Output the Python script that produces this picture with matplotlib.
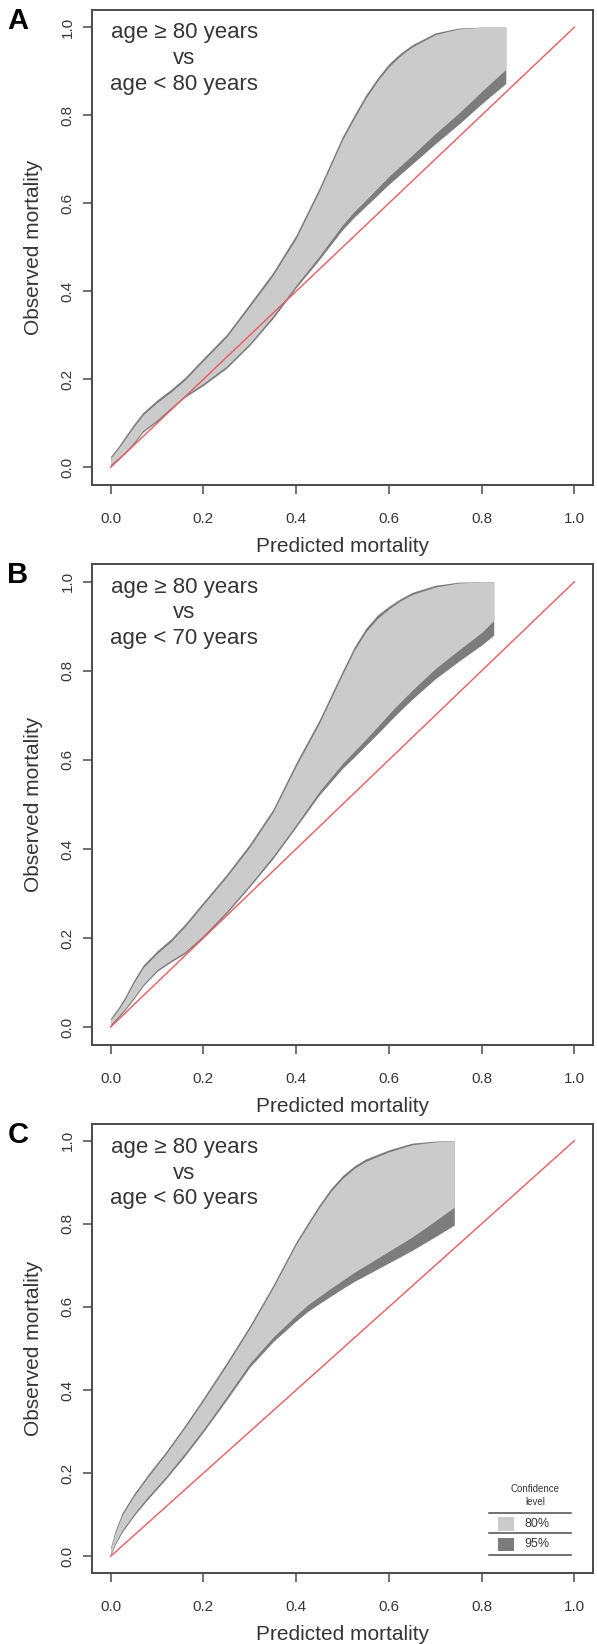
import matplotlib.pyplot as plt
from matplotlib.patches import Rectangle

plt.rcParams['font.family'] = ['Liberation Sans', 'DejaVu Sans']

# calibration belts
# panel A: age >= 80 vs age < 80
a_x = [0, 0.015, 0.03, 0.05, 0.07, 0.10, 0.13, 0.16, 0.20, 0.25, 0.30, 0.35, 0.40,
       0.45, 0.50, 0.525, 0.55, 0.575, 0.60, 0.625, 0.65, 0.70, 0.75, 0.80, 0.852]
a_hi95 = [0.025, 0.045, 0.068, 0.098, 0.125, 0.153, 0.177, 0.204, 0.248, 0.302, 0.372, 0.443, 0.528,
          0.635, 0.752, 0.800, 0.846, 0.884, 0.917, 0.941, 0.960, 0.987, 0.998, 1.0, 1.0]
a_hi80 = [0.021, 0.040, 0.062, 0.092, 0.119, 0.147, 0.171, 0.198, 0.242, 0.296, 0.365, 0.436, 0.520,
          0.627, 0.744, 0.792, 0.838, 0.877, 0.910, 0.935, 0.955, 0.983, 0.996, 1.0, 1.0]
a_lo80 = [0.007, 0.020, 0.034, 0.057, 0.084, 0.108, 0.136, 0.163, 0.191, 0.230, 0.282, 0.344, 0.414,
          0.480, 0.551, 0.581, 0.607, 0.634, 0.661, 0.685, 0.709, 0.758, 0.804, 0.854, 0.904]
a_lo95 = [0.003, 0.016, 0.030, 0.053, 0.080, 0.104, 0.132, 0.159, 0.186, 0.225, 0.277, 0.338, 0.408,
          0.472, 0.540, 0.568, 0.593, 0.618, 0.643, 0.666, 0.689, 0.735, 0.779, 0.826, 0.872]

# panel B: age >= 80 vs age < 70
b_x = [0, 0.015, 0.03, 0.05, 0.07, 0.10, 0.13, 0.16, 0.20, 0.25, 0.30, 0.35, 0.40,
       0.45, 0.50, 0.525, 0.55, 0.575, 0.60, 0.625, 0.65, 0.70, 0.75, 0.80, 0.826]
b_hi95 = [0.020, 0.041, 0.066, 0.105, 0.139, 0.171, 0.198, 0.231, 0.281, 0.343, 0.411, 0.489, 0.594,
          0.690, 0.800, 0.853, 0.895, 0.925, 0.945, 0.962, 0.976, 0.992, 0.999, 1.0, 1.0]
b_hi80 = [0.016, 0.036, 0.060, 0.099, 0.133, 0.165, 0.192, 0.225, 0.275, 0.337, 0.404, 0.482, 0.586,
          0.682, 0.792, 0.845, 0.887, 0.917, 0.939, 0.957, 0.971, 0.988, 0.997, 1.0, 1.0]
b_lo80 = [0.006, 0.023, 0.040, 0.067, 0.096, 0.129, 0.150, 0.169, 0.206, 0.260, 0.320, 0.384, 0.455,
          0.529, 0.592, 0.619, 0.646, 0.674, 0.703, 0.730, 0.756, 0.805, 0.846, 0.886, 0.913]
b_lo95 = [0.002, 0.019, 0.036, 0.063, 0.092, 0.125, 0.146, 0.165, 0.201, 0.255, 0.315, 0.378, 0.449,
          0.521, 0.581, 0.606, 0.632, 0.658, 0.685, 0.711, 0.736, 0.782, 0.821, 0.858, 0.880]

# panel C: age >= 80 vs age < 60
c_x = [0, 0.01, 0.025, 0.05, 0.08, 0.12, 0.16, 0.20, 0.25, 0.30, 0.35,
       0.40, 0.425, 0.45, 0.475, 0.50, 0.525, 0.55, 0.60, 0.65, 0.70, 0.741]
c_hi95 = [0.022, 0.062, 0.105, 0.150, 0.196, 0.253, 0.315, 0.381, 0.466, 0.555, 0.652,
          0.757, 0.802, 0.846, 0.885, 0.916, 0.939, 0.956, 0.978, 0.994, 0.999, 1.0]
c_hi80 = [0.018, 0.056, 0.099, 0.144, 0.190, 0.247, 0.309, 0.374, 0.459, 0.548, 0.645,
          0.750, 0.795, 0.839, 0.878, 0.909, 0.933, 0.950, 0.973, 0.990, 0.997, 1.0]
c_lo80 = [0.006, 0.032, 0.063, 0.102, 0.143, 0.193, 0.248, 0.306, 0.384, 0.464, 0.527,
          0.580, 0.605, 0.625, 0.645, 0.664, 0.683, 0.700, 0.734, 0.768, 0.807, 0.840]
c_lo95 = [0.002, 0.028, 0.058, 0.097, 0.137, 0.187, 0.241, 0.299, 0.376, 0.455, 0.516,
          0.566, 0.589, 0.608, 0.626, 0.644, 0.661, 0.676, 0.706, 0.736, 0.769, 0.797]

letters = ['A', 'B', 'C']
comparisons = ['age < 80 years', 'age < 70 years', 'age < 60 years']
ticks = [0.0, 0.2, 0.4, 0.6, 0.8, 1.0]
tick_labels = ['0.0', '0.2', '0.4', '0.6', '0.8', '1.0']
levels = ['80%', '95%']

light = '#cbcbcb'
dark = '#7c7c7c'
ink = '#363636'
frame = '#4a4a4a'

panels = [
    (a_x, a_lo95, a_lo80, a_hi80, a_hi95),
    (b_x, b_lo95, b_lo80, b_hi80, b_hi95),
    (c_x, c_lo95, c_lo80, c_hi80, c_hi95),
]
# axes boxes in figure fractions (597 x 1644 px)
boxes = [
    [0.1541, 0.7050, 0.8392, 0.2892],
    [0.1541, 0.3644, 0.8392, 0.2926],
    [0.1541, 0.0432, 0.8392, 0.2731],
]

fig = plt.figure(figsize=(5.97, 16.44), dpi=100)

for i, (x, lo95, lo80, hi80, hi95) in enumerate(panels):
    ax = fig.add_axes(boxes[i])
    ax.fill_between(x, lo95, hi95, color=dark, lw=0)
    ax.fill_between(x, lo80, hi80, color=light, lw=0)
    ax.plot([0, 1], [0, 1], color='#ec5b5b', lw=1.0)

    ax.set_xlim(-0.04, 1.04)
    ax.set_ylim(-0.04, 1.04)
    ax.set_xticks(ticks)
    ax.set_xticklabels(tick_labels)
    ax.set_yticks(ticks)
    ax.set_yticklabels(tick_labels, rotation=90, va='center')
    ax.tick_params(axis='both', direction='out', length=6.5, width=1.1,
                   color=frame, labelcolor=ink, labelsize=11)
    ax.tick_params(axis='x', pad=13)
    ax.tick_params(axis='y', pad=6)
    for s in ax.spines.values():
        s.set_color(frame)
        s.set_linewidth(1.4)

    ax.set_xlabel('Predicted mortality', fontsize=15, color=ink)
    ax.set_ylabel('Observed mortality', fontsize=15, color=ink)
    h_px = boxes[i][3] * 1644
    ax.xaxis.set_label_coords(0.5, -52 / h_px)
    ax.yaxis.set_label_coords(-0.097, 0.5)

    ax.text(0.184, 1 - 49 / h_px, 'age \u2265 80 years\nvs\n' + comparisons[i],
            transform=ax.transAxes, ha='center', va='center',
            fontsize=16, color=ink, linespacing=1.3, multialignment='center')

    # panel letter
    b = boxes[i]
    fig.text(0.030, b[1] + b[3] - 11 / 1644, letters[i], fontsize=21,
             fontweight='bold', ha='center', va='center', color='black')

    if i == 2:
        # confidence legend, lower right
        ax.text(0.915, 0.161, 'Confidence', ha='center', va='center',
                fontsize=7, color=ink)
        ax.text(0.915, 0.131, 'level', ha='center', va='center',
                fontsize=7, color=ink)
        for yl in [0.105, 0.056, 0.004]:
            ax.plot([0.816, 0.992], [yl, yl], color=frame, lw=1.1)
        for yc, lab, col in zip([0.078, 0.029], levels, [light, dark]):
            ax.add_patch(Rectangle((0.836, yc - 0.016), 0.033, 0.032,
                                   color=col, lw=0))
            ax.text(0.920, yc, lab, ha='center', va='center',
                    fontsize=9, color=ink)

fig.savefig('out.png', dpi=100)
